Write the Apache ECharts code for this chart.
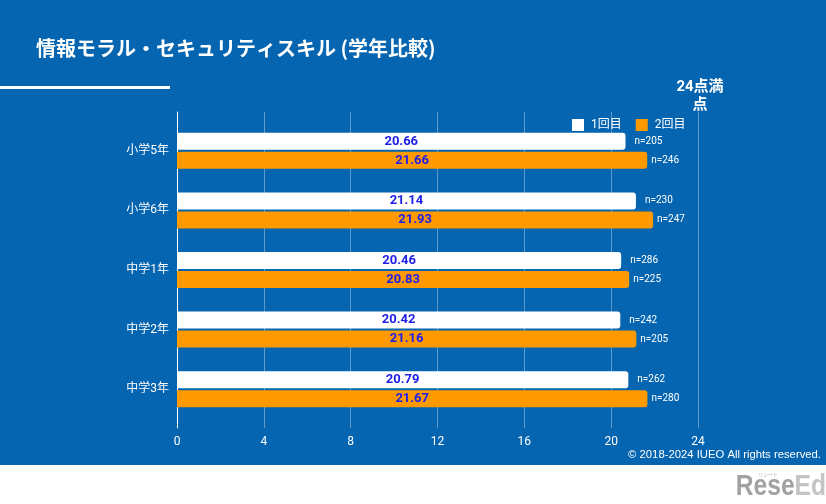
<!DOCTYPE html>
<html><head><meta charset="utf-8">
<script src="https://cdn.jsdelivr.net/npm/echarts@6/dist/echarts.min.js"></script>
<style>html,body{margin:0;padding:0;background:#fff}#c{width:826px;height:504px}</style>
</head><body><div id="c"></div>
<script>
const categories = ['小学5年', '小学6年', '中学1年', '中学2年', '中学3年'];
const round1 = [20.66, 21.14, 20.46, 20.42, 20.79];
const round2 = [21.66, 21.93, 20.83, 21.16, 21.67];
const n1 = [205, 230, 286, 242, 262];
const n2 = [246, 247, 225, 205, 280];
const xTicks = [0, 4, 8, 12, 16, 20, 24];
const seriesNames = ['1回目', '2回目'];

const FONT = "Roboto, 'Noto Sans CJK JP', sans-serif";
const chart = echarts.init(document.getElementById('c'), null, {renderer: 'canvas'});
const zeros = categories.map(() => 0);

chart.setOption({
  backgroundColor: '#0565b0',
  animation: false,
  textStyle: {fontFamily: FONT},
  title: {
    text: '情報モラル・セキュリティスキル (学年比較)',
    left: 31, top: 33,
    textStyle: {color: '#fff', fontSize: 20, fontWeight: 'bold', fontFamily: "'Noto Sans CJK JP', sans-serif"}
  },
  legend: {
    data: seriesNames,
    left: 567, top: 114,
    icon: 'rect', itemWidth: 12, itemHeight: 12, itemGap: 14,
    textStyle: {color: '#fff', fontSize: 12, fontFamily: FONT, padding: [0, 0, 0, 2]}
  },
  graphic: [
    {type: 'rect', shape: {x: 0, y: 86, width: 170, height: 3}, style: {fill: '#fff'}},
    {type: 'text', x: 700, y: 78, style: {text: '24点満\n点', fill: '#fff', font: "bold 15px Roboto, 'Noto Sans CJK JP', sans-serif", textAlign: 'center', lineHeight: 18}},
    {type: 'rect', shape: {x: 0, y: 465, width: 826, height: 39}, style: {fill: '#fff'}},
    {type: 'text', x: 821, y: 455, style: {text: '© 2018-2024 IUEO All rights reserved.', fill: '#fff', font: "11.3px 'Liberation Sans', Arial, sans-serif", textAlign: 'right', textVerticalAlign: 'middle'}},
    {type: 'text', x: 826, y: 487, scaleX: 0.82, style: {text: '{a|Rese}{b|Ed}', textAlign: 'right', textVerticalAlign: 'middle',
      rich: {a: {fill: '#a2a2a2', font: "bold 30px 'Liberation Sans', Arial, sans-serif"}, b: {fill: '#c4c4c4', font: "bold 30px 'Liberation Sans', Arial, sans-serif"}}}},
    {type: 'text', x: 768, y: 474, style: {text: 'リシード', fill: '#aaa', font: "5px 'Noto Sans CJK JP', sans-serif", textAlign: 'center', textVerticalAlign: 'middle'}}
  ],
  grid: [
    {left: 177, right: 128, top: 112, bottom: 76},
    {left: 177, right: 128, top: 121, bottom: 85}
  ],
  xAxis: [
    {type: 'value', gridIndex: 0, min: 0, max: 24, interval: 4,
      axisLabel: {color: '#fff', fontSize: 12, margin: 8, fontFamily: FONT},
      axisLine: {show: false}, axisTick: {show: false},
      splitLine: {lineStyle: {color: 'rgba(255,255,255,0.35)', width: 1}}},
    {type: 'value', gridIndex: 1, min: 0, max: 24, interval: 4, show: false, splitLine: {show: false}}
  ],
  yAxis: [
    {type: 'category', gridIndex: 0, data: categories, inverse: true,
      axisLabel: {show: false}, axisTick: {show: false},
      axisLine: {show: true, lineStyle: {color: '#fff', width: 1}}},
    {type: 'category', gridIndex: 1, data: categories, inverse: true,
      axisLabel: {color: '#fff', fontSize: 12, margin: 8, fontFamily: FONT},
      axisTick: {show: false}, axisLine: {show: false}}
  ],
  series: [
    {name: seriesNames[0], type: 'bar', xAxisIndex: 1, yAxisIndex: 1, stack: 'r1', data: round1,
      barWidth: 17, barGap: '12%',
      itemStyle: {color: '#ffffff', borderRadius: [0, 3, 3, 0]},
      label: {show: true, position: 'inside', color: '#2020e8', fontWeight: 'bold', fontSize: 13, fontFamily: FONT}},
    {name: 'n1', type: 'bar', xAxisIndex: 1, yAxisIndex: 1, stack: 'r1', data: zeros,
      barWidth: 17, barGap: '12%', itemStyle: {color: 'rgba(0,0,0,0)'},
      label: {show: true, position: 'right', distance: 9, color: '#fff', fontSize: 10, fontFamily: FONT,
        formatter: p => 'n=' + n1[p.dataIndex]}},
    {name: seriesNames[1], type: 'bar', xAxisIndex: 1, yAxisIndex: 1, stack: 'r2', data: round2,
      barWidth: 17, barGap: '12%',
      itemStyle: {color: '#ff9900', borderRadius: [0, 3, 3, 0]},
      label: {show: true, position: 'inside', color: '#2020e8', fontWeight: 'bold', fontSize: 13, fontFamily: FONT}},
    {name: 'n2', type: 'bar', xAxisIndex: 1, yAxisIndex: 1, stack: 'r2', data: zeros,
      barWidth: 17, barGap: '12%', itemStyle: {color: 'rgba(0,0,0,0)'},
      label: {show: true, position: 'right', distance: 4, color: '#fff', fontSize: 10, fontFamily: FONT,
        formatter: p => 'n=' + n2[p.dataIndex]}}
  ]
});
</script></body></html>
